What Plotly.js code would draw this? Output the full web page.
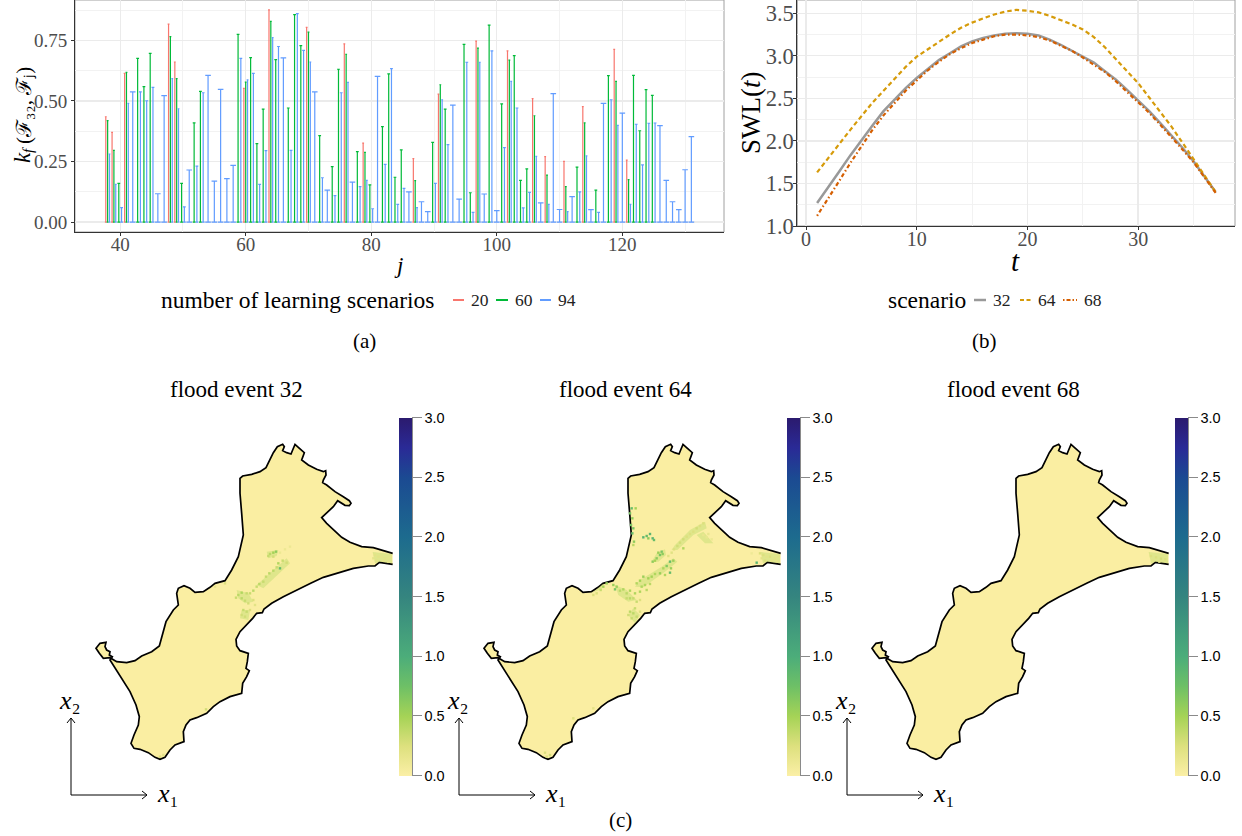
<!DOCTYPE html>
<html><head><meta charset="utf-8">
<script src="https://cdn.plot.ly/plotly-3.0.1.min.js"></script>
<style>html,body{margin:0;padding:0;background:#fff}#c{width:1242px;height:836px}</style>
</head><body><div id="c"></div>
<script>
// ---- panel (a): k_f values per j, for each number of learning scenarios
const j20=[38,39,41,48,49,60,64,70,76,79,87,91,97,102,106,108,111,114,119,121];
const k20=[.435,.37,.614,.817,.661,.552,.876,.804,.736,.326,.262,.528,.747,.707,.51,.27,.251,.477,.713,.256];
const j60=[38,39,40,41,43,44,45,48,49,50,52,53,59,60,61,62,63,64,65,67,68,69,70,72,74,75,76,78,79,80,82,83,84,85,87,90,91,92,95,96,97,99,101,102,103,104,105,106,108,111,113,114,116,118,119,121,122,123,124,125];
const k60=[.419,.296,.16,.618,.676,.559,.697,.766,.592,.16,.41,.54,.775,.578,.679,.324,.466,.829,.671,.471,.857,.729,.784,.357,.229,.631,.693,.291,.288,.154,.394,.612,.185,.298,.171,.329,.567,.466,.734,.121,.718,.813,.488,.669,.687,.172,.22,.439,.194,.146,.227,.41,.132,.605,.581,.175,.606,.377,.547,.523];
const j94=[38,39,40,41,42,43,44,45,46,47,48,49,50,51,52,53,54,55,56,57,58,59,60,61,62,63,64,65,66,67,68,69,70,71,72,73,74,75,76,77,78,79,80,81,82,83,84,85,86,87,88,89,90,91,92,93,94,95,96,97,98,99,100,101,102,103,104,105,106,107,108,109,110,111,112,113,114,115,116,117,118,119,120,121,122,123,124,125,126,127,128,129,130,131];
const k94=[.281,.156,.06,.49,.538,.538,.501,.556,.117,.522,.592,.468,.063,.215,.231,.534,.606,.169,.548,.179,.234,.676,.587,.614,.156,.295,.762,.725,.678,.296,.861,.709,.661,.538,.183,.132,.109,.534,.577,.165,.146,.172,.055,.602,.238,.634,.073,.139,.125,.06,.084,.043,.16,.505,.32,.483,.095,.66,.04,.66,.116,.707,.047,.307,.581,.471,.059,.123,.271,.079,.073,.53,.052,.043,.105,.125,.273,.051,.04,.49,.505,.399,.45,.073,.404,.236,.408,.409,.398,.172,.084,.051,.216,.353];
// ---- panel (b): still water level per time step
const tSteps=[1,2,3,4,5,6,7,8,9,10,11,12,13,14,15,16,17,18,19,20,21,22,23,24,25,26,27,28,29,30,31,32,33,34,35,36,37];
const swl32=[1.27,1.45,1.64,1.83,2.01,2.18,2.35,2.49,2.62,2.74,2.85,2.95,3.03,3.11,3.17,3.21,3.24,3.26,3.265,3.26,3.24,3.19,3.13,3.06,2.99,2.92,2.82,2.72,2.60,2.48,2.35,2.21,2.07,1.92,1.76,1.58,1.40];
const swl64=[1.63,1.80,1.97,2.13,2.29,2.45,2.59,2.73,2.87,2.99,3.08,3.17,3.25,3.33,3.39,3.44,3.485,3.52,3.54,3.53,3.51,3.47,3.42,3.37,3.31,3.22,3.10,2.96,2.82,2.68,2.51,2.34,2.17,1.98,1.79,1.59,1.40];
const swl68=[1.12,1.32,1.53,1.74,1.94,2.13,2.30,2.45,2.59,2.71,2.83,2.93,3.02,3.09,3.15,3.19,3.23,3.25,3.25,3.24,3.22,3.18,3.12,3.06,2.98,2.90,2.81,2.70,2.58,2.46,2.33,2.19,2.05,1.90,1.75,1.57,1.39];
// ---- panel (c): coastline outline (map units), shallow-flood patches and flooded spots
const coastX=[998,975,958,945,925,880,830,790,752,715,670,635,612,607,590,578,560,540,528,530,540,565,562,558,568,560,548,545,510,480,460,440,410,390,378,370,372,345,330,315,300,285,265,240,222,213,222,235,238,228,210,185,165,150,157,148,150,140,135,138,120,108,118,130,150,170,200,225,245,275,298,308,318,340,355,350,355,372,390,405,430,450,465,495,515,535,545,550,545,540,540,548,575,600,618,628,640,652,668,673,668,680,693,698,705,715,733,725,745,770,790,797,798,790,788,800,825,850,868,873,868,855,833,820,800,785,800,820,845,870,905,940,965,998];
const coastY=[403,400,397,408,408,415,430,442,460,478,500,520,537,548,550,565,585,605,628,648,662,670,695,715,722,740,760,790,800,815,830,850,863,870,885,905,935,945,960,982,988,982,968,958,955,940,915,885,860,825,785,745,715,690,680,675,665,660,650,637,640,655,670,685,683,695,698,692,678,665,648,615,575,540,525,490,475,467,475,487,485,472,460,452,420,380,340,315,250,190,145,138,133,125,113,90,68,50,43,50,62,68,72,60,43,52,68,90,105,118,125,122,135,150,158,165,185,200,212,220,227,226,212,230,248,263,280,300,322,337,350,353,360,370];
const patch32X=[938,996,996,960,945,null,620,655,650,625,null,530,565,580,555,535,null,545,570,565,540,null,590,680,690,610];
const patch32Y=[366,372,400,395,400,null,365,360,378,385,null,480,490,515,520,505,null,540,540,570,565,null,465,385,400,475];
const patch64X=[938,996,996,960,945,null,771,726,681,671,688,736,776,null,651,626,611,631,654,null,676,641,576,561,586,651,688,null,501,536,566,541,511,null,556,576,561,541,null,466,441,426,461,null,766,796,771,746];
const patch64Y=[366,372,400,395,400,null,275,300,345,360,360,315,295,null,358,370,395,395,375,null,385,410,450,470,472,425,395,null,465,480,510,515,495,null,535,555,580,555,null,460,482,490,478,null,305,340,340,315];
const patch68X=[938,996,996,960,945];
const patch68Y=[366,372,400,395,400];
const spots32X=[640,648,630,625,640,690,675,660,668,680,655,660,650,640,628,618,610,598,590,580,570,560,545,535,528,545,555,565,580,550,560,545,555,570,585,495,465,438,300,310,945,955,965,975,985,992,940,950,970,985];
const spots32Y=[368,365,372,378,380,350,358,368,392,398,400,415,412,422,430,440,455,462,470,482,490,490,488,495,503,505,512,520,510,540,545,555,560,540,525,460,470,838,980,975,375,380,380,385,385,380,385,392,392,395];
const spots32V=[.5,.6,.4,.35,.3,.12,.12,.12,.35,.3,.45,.8,.35,.4,.4,.35,.35,.4,.35,.4,.35,.35,.45,.4,.35,.4,.35,.3,.25,.35,.35,.3,.3,.25,.2,.25,.15,.3,.25,.2,.2,.2,.18,.2,.18,.18,.18,.2,.18,.18];
const spots64X=[551,563,546,553,549,556,553,558,556,586,596,606,614,618,601,641,636,626,614,644,631,621,766,756,746,736,726,716,706,696,688,678,671,661,766,781,791,776,706,676,666,656,669,646,636,651,666,621,611,601,586,576,566,591,581,606,596,576,561,546,536,526,516,506,496,501,546,566,536,556,576,556,546,566,551,561,541,576,476,466,458,436,446,936,946,956,966,981,991,941,951,971,986,926,911,376,436,306,291,296];
const spots64Y=[235,235,250,265,285,295,310,335,345,322,318,312,325,330,325,365,375,385,395,372,368,392,280,288,295,305,312,320,328,338,348,358,368,378,315,312,328,322,355,392,395,408,415,415,430,435,428,432,440,445,440,452,460,465,470,462,480,485,490,482,490,478,482,470,465,478,505,515,505,505,510,550,545,560,565,535,555,545,460,470,480,495,490,370,375,380,380,385,380,385,392,392,393,398,370,865,835,975,968,980];
const spots64V=[.8,.5,.7,.6,.7,.7,.8,.6,.4,.9,.8,.9,.9,.8,.6,.7,.7,.6,.6,.6,.55,.5,.25,.25,.3,.25,.25,.25,.3,.3,.3,.25,.22,.22,.15,.15,.12,.15,.45,.55,.8,.65,.55,.45,.55,.45,.8,.45,.5,.5,.55,.5,.45,.45,.45,.4,.4,.45,.45,.45,.4,.45,.4,.55,.55,.7,.4,.35,.35,.35,.25,.4,.4,.35,.35,.35,.3,.25,.55,.5,.35,.25,.25,.25,.25,.2,.25,.2,.2,.2,.25,.2,.18,.9,.1,.25,.2,.3,.25,.25];
const spots68X=[945,960,975,988,950,970,300];
const spots68Y=[378,382,386,388,392,395,975];
const spots68V=[.25,.25,.28,.25,.2,.2,.12];

const serif='"Liberation Serif", serif', sans='"Liberation Sans", sans-serif';
const px=x=>x/1242, py=y=>1-y/836;
const red='#F8766D', green='#00BA38', blue='#619CFF', amber='#D69B0A', vermilion='#D55E00', grey='#999999';
const major='#EBEBEB', minor='#F2F2F2', tickCol='#4D4D4D';

// Dodge each j's spikes the way the grouped error bars share a slot
const slot=0.88, slotPx=5.6;
const series=[{j:j20,k:k20,c:red},{j:j60,k:k60,c:green},{j:j94,k:k94,c:blue}];
const count=j=>series.filter(s=>s.j.includes(j)).length;
const traces=[];
series.forEach(s=>{
  [1,2,3].forEach(n=>{
    const xs=[],ys=[];
    s.j.forEach((j,i)=>{
      if(count(j)!==n) return;
      const rank=series.filter(o=>o.j.includes(j)).indexOf(s);
      xs.push(j+slot*((rank+.5)/n-.5)); ys.push(s.k[i]);
    });
    if(!xs.length) return;
    traces.push({type:'scatter',mode:'markers',x:xs,y:ys,xaxis:'x',yaxis:'y',showlegend:false,hoverinfo:'skip',
      marker:{size:1,opacity:0},
      error_y:{type:'data',symmetric:false,array:ys.map(()=>0),arrayminus:ys,color:s.c,thickness:1.2,width:slotPx/n/2}});
  });
});
// panel (b)
[[swl32,grey,'solid',2.5],[swl64,amber,'4.5px,3px',2.2],[swl68,vermilion,'1.5px,2.5px,4px,2.5px',2.2]].forEach(([v,c,d,w])=>{
  traces.push({type:'scatter',mode:'lines',x:tSteps,y:v,xaxis:'x2',yaxis:'y2',showlegend:false,hoverinfo:'skip',
    line:{color:c,dash:d,width:w}});
});
// panel (c)
const scale=[[0,'#FBEFA6'],[.0833,'#DDE07E'],[.1667,'#A5D356'],[.25,'#6EC066'],[.3333,'#4CAD7A'],[.5,'#35857F'],[.6667,'#1D6B8E'],[.8333,'#1B4A92'],[.9167,'#2A2A96'],[1,'#2B1A6E']];
const maps=[
  {ax:'3',ca:'coloraxis',sx:spots32X,sy:spots32Y,sv:spots32V,px:patch32X,py:patch32Y,left:60,title:'flood event 32'},
  {ax:'4',ca:'coloraxis2',sx:spots64X,sy:spots64Y,sv:spots64V,px:patch64X,py:patch64Y,left:448,title:'flood event 64'},
  {ax:'5',ca:'coloraxis3',sx:spots68X,sy:spots68Y,sv:spots68V,px:patch68X,py:patch68Y,left:836,title:'flood event 68'}];
const axisCommon={showgrid:true,gridcolor:major,gridwidth:1.3,zeroline:false,showline:true,linecolor:'#333',linewidth:1,ticks:'outside',ticklen:3,tickcolor:'#333'};
const minorGrid=vals=>({tickvals:vals,showgrid:true,gridcolor:minor,gridwidth:1,ticks:''});
const layout={width:1242,height:836,margin:{l:0,r:0,t:0,b:0},paper_bgcolor:'#fff',plot_bgcolor:'#fff',showlegend:false,
  font:{family:serif,color:'#000'},
  xaxis:Object.assign({},axisCommon,{domain:[px(75),px(724)],range:[32.8,136.2],anchor:'y',tickvals:[40,60,80,100,120],minor:minorGrid([50,70,90,110,130]),
    tickfont:{family:serif,size:19,color:tickCol},ticklabelstandoff:-8}),
  yaxis:Object.assign({},axisCommon,{domain:[py(232),py(0)],range:[-0.041,0.917],anchor:'x',tickvals:[0,.25,.5,.75],ticktext:['0.00','0.25','0.50','0.75'],minor:minorGrid([.125,.375,.625,.875]),
    tickfont:{family:serif,size:19,color:tickCol}}),
  xaxis2:Object.assign({},axisCommon,{domain:[px(797.3),px(1235)],range:[-0.79,38.75],anchor:'y2',tickvals:[0,10,20,30],minor:minorGrid([5,15,25,35]),
    tickfont:{family:serif,size:20,color:tickCol},ticklabelstandoff:-8}),
  yaxis2:Object.assign({},axisCommon,{domain:[py(226),py(0)],range:[1.0,3.656],anchor:'x2',tickvals:[1,1.5,2,2.5,3,3.5],ticktext:['1.0','1.5','2.0','2.5','3.0','3.5'],minor:minorGrid([1.25,1.75,2.25,2.75,3.25]),
    tickfont:{family:serif,size:22.5,color:tickCol},ticklabelstandoff:-5}),
  shapes:[
    {type:'rect',xref:'x domain',yref:'y domain',x0:0,x1:1,y0:0,y1:1,line:{color:'#A0A0A0',width:1},layer:'below'},
    {type:'rect',xref:'x2 domain',yref:'y2 domain',x0:0,x1:1,y0:0,y1:1,line:{color:'#A0A0A0',width:1},layer:'below'}],
  annotations:[]
};
const note=(x,y,text,size,extra)=>layout.annotations.push(Object.assign({xref:'paper',yref:'paper',x:px(x),y:py(y),text,showarrow:false,xanchor:'center',yanchor:'middle',font:{family:serif,size,color:'#000'}},extra||{}));
const key=(x0,x1,y,color,dash,w)=>layout.shapes.push({type:'line',xref:'paper',yref:'paper',x0:px(x0),x1:px(x1),y0:py(y),y1:py(y),line:{color,dash:dash||'solid',width:w||2}});
const num={font:{family:serif,size:17.5,color:'#222'}};

note(398,266,'<i>j</i>',23);
note(1015,261,'<i>t</i>',29);
note(22,158,'<i>k</i>',23,{textangle:-90});
note(28,150,'<i>f</i>',15,{textangle:-90});
note(24,106,'(ℱ₃₂, ℱⱼ)',21,{textangle:-90});
note(751,113,'SWL(<i>t</i>)',27,{textangle:-90});
note(297,300,'number of learning scenarios',23.5);
key(453,464,300,red); note(480,300,'20',17.5,num);
key(496,508,300,green); note(524,300,'60',17.5,num);
key(540,551,300,blue); note(567,300,'94',17.5,num);
note(927,300,'scenario',23.5);
key(974,986,300,grey,'solid',2.5); note(1002,300,'32',17.5,num);
key(1020,1032,300,amber,'4px,2.5px'); note(1047,300,'64',17.5,num);
key(1063,1077,300,vermilion,'1.5px,2px,4px,2px'); note(1093,300,'68',17.5,num);
note(365,341,'(a)',21); note(984,341,'(b)',21); note(620,820,'(c)',21);

maps.forEach(m=>{
  const xk='xaxis'+m.ax, yk='yaxis'+m.ax;
  layout[xk]={domain:[px(m.left),px(m.left+370)],range:[0,1110],anchor:'y'+m.ax,visible:false,fixedrange:true};
  layout[yk]={domain:[py(770),py(430)],range:[1020,0],anchor:'x'+m.ax,visible:false,fixedrange:true};
  layout[m.ca]={cmin:0,cmax:3,colorscale:scale,colorbar:{xref:'paper',yref:'paper',x:px(m.left+339),xanchor:'left',xpad:0,y:py(417.5),yanchor:'top',ypad:0,
    len:358,lenmode:'pixels',thickness:13,thicknessmode:'pixels',outlinewidth:0,ticks:'outside',ticklen:10,tickcolor:'#8A8A8A',tickwidth:1,
    tick0:0,dtick:.5,tickformat:'.1f',tickfont:{family:sans,size:14.5,color:'#000'}}};
  traces.push({type:'scatter',mode:'lines',x:coastX,y:coastY,xaxis:'x'+m.ax,yaxis:'y'+m.ax,fill:'toself',fillcolor:'#FAEEA2',
    line:{color:'#000',width:1.7},showlegend:false,hoverinfo:'skip'});
  traces.push({type:'scatter',mode:'none',x:m.px,y:m.py,xaxis:'x'+m.ax,yaxis:'y'+m.ax,fill:'toself',fillcolor:'rgba(190,220,110,0.45)',showlegend:false,hoverinfo:'skip'});
  traces.push({type:'scatter',mode:'markers',x:m.sx,y:m.sy,xaxis:'x'+m.ax,yaxis:'y'+m.ax,showlegend:false,hoverinfo:'skip',
    marker:{symbol:'square',size:2.4,color:m.sv,coloraxis:m.ca,line:{width:0}}});
  note(m.left+177,390,m.title,23);
  const ox=m.left-60;
  layout.shapes.push({type:'path',xref:'paper',yref:'paper',layer:'above',line:{color:'#000',width:1},
    path:`M${px(ox+71)},${py(718)}L${px(ox+71)},${py(795)}L${px(ox+147)},${py(795)}`});
  layout.shapes.push({type:'path',xref:'paper',yref:'paper',layer:'above',line:{color:'#000',width:1},
    path:`M${px(ox+67)},${py(723)}L${px(ox+71)},${py(718)}L${px(ox+75)},${py(723)}`});
  layout.shapes.push({type:'path',xref:'paper',yref:'paper',layer:'above',line:{color:'#000',width:1},
    path:`M${px(ox+142)},${py(791)}L${px(ox+147)},${py(795)}L${px(ox+142)},${py(799)}`});
  note(ox+70,700,'<i>x</i>₂',26);
  note(ox+168,793,'<i>x</i>₁',26);
  layout.shapes.push({type:'line',xref:'paper',yref:'paper',x0:px(m.left+352.5),x1:px(m.left+352.5),y0:py(417.5),y1:py(775.5),line:{color:'#8A8A8A',width:1}});
});
Plotly.newPlot('c',traces,layout,{displayModeBar:false,staticPlot:true});
</script></body></html>
